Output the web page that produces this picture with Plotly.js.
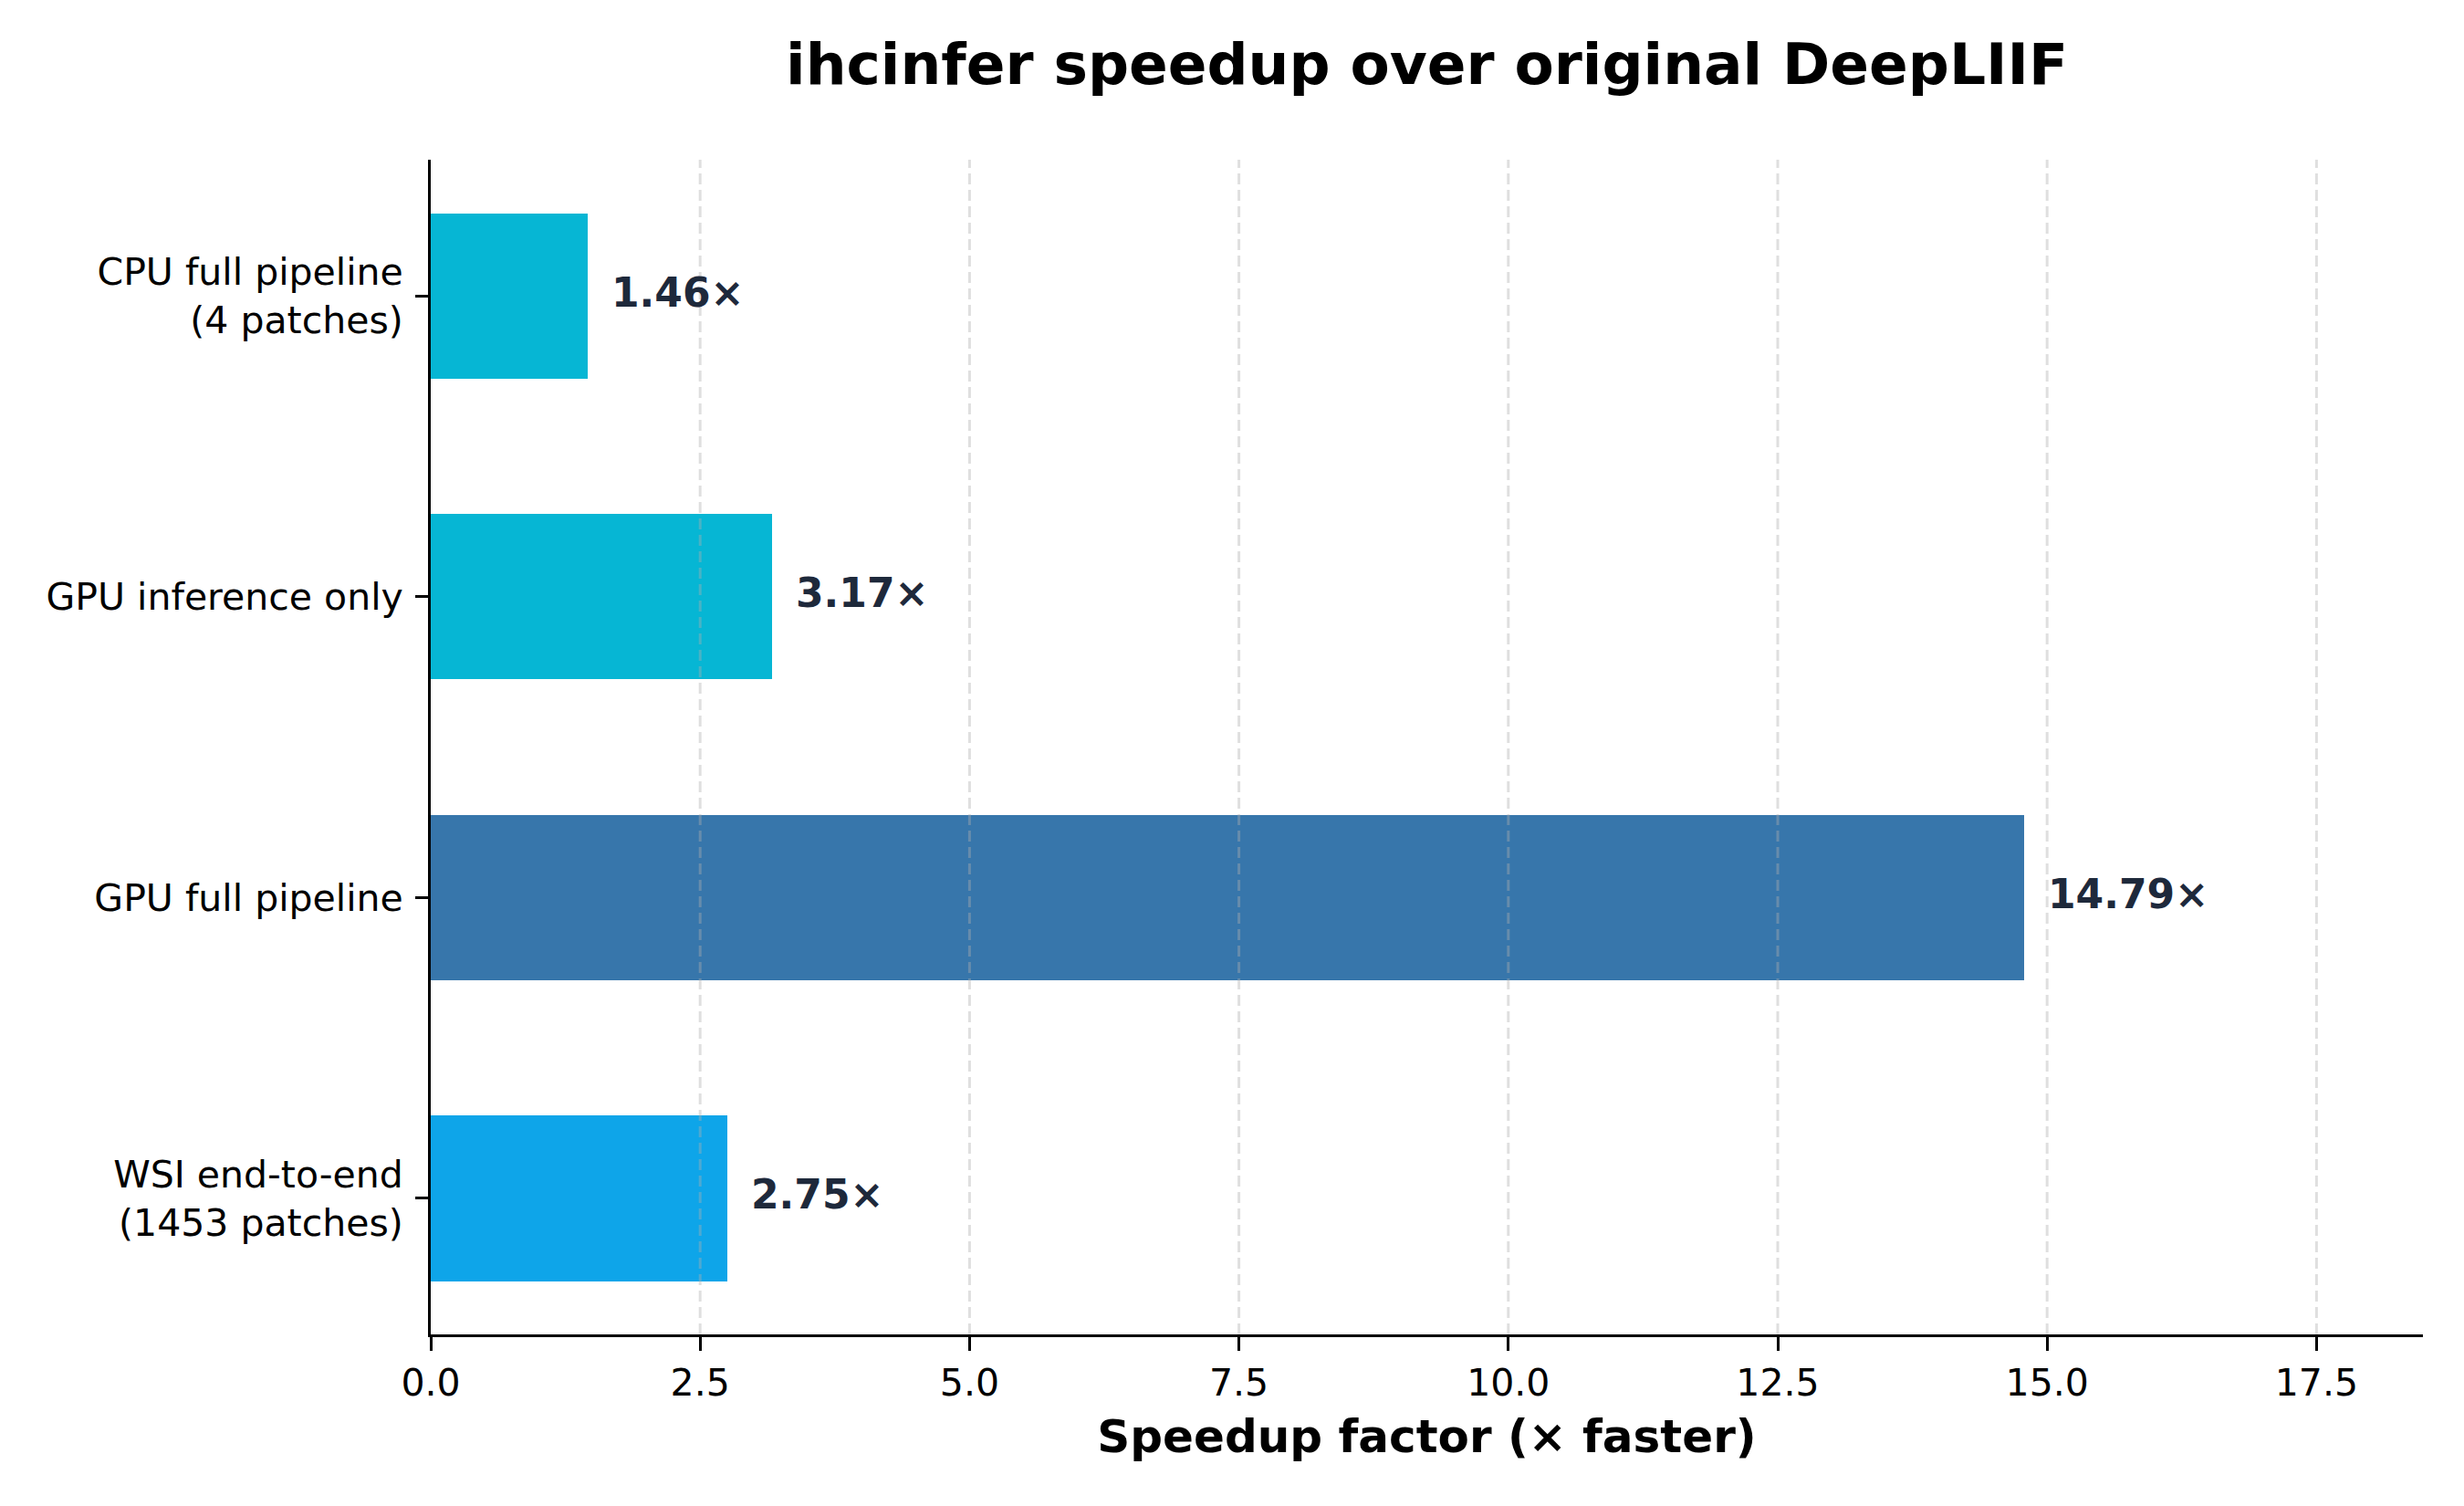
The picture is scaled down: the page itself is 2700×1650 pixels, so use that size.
<!DOCTYPE html>
<html>
<head>
<meta charset="utf-8">
<script src="https://cdn.plot.ly/plotly-3.0.1.min.js"></script>
<style>
  html, body { margin: 0; padding: 0; background: #ffffff; }
  #chart { width: 2700px; height: 1650px; }
</style>
</head>
<body>
<div id="chart"></div>
<script>
// benchmark results, top to bottom as drawn
const categories = [
    'CPU full pipeline<br>(4 patches)',
    'GPU inference only',
    'GPU full pipeline',
    'WSI end-to-end<br>(1453 patches)',
];
const speedups = [1.46, 3.17, 14.79, 2.75];
const xTicks = [0, 2.5, 5, 7.5, 10, 12.5, 15, 17.5];
const barColors = ['#06b6d4', '#06b6d4', '#3776ab', '#0ea5e9'];

const FONT = 'DejaVu Sans, Liberation Sans, sans-serif';

const speedupBars = {
    type: 'bar',
    orientation: 'h',
    y: categories,
    x: speedups,
    width: 0.55,
    marker: {
        color: barColors,
        line: {width: 0},
    },
    hoverinfo: 'skip',
};

// value labels next to each bar end
const valueLabels = speedups.map((v, i) => ({
    x: v,
    y: categories[i],
    xref: 'x',
    yref: 'y',
    text: '<b>' + v.toFixed(2) + '×</b>',
    showarrow: false,
    xanchor: 'left',
    yanchor: 'middle',
    xshift: 24,
    yshift: 4,
    font: {family: FONT, size: 44, color: '#1e293b'},
}));

// dashed vertical grid drawn on top of the bars, like the original
const gridShapes = xTicks.filter(t => t > 0).map(t => ({
    type: 'line',
    layer: 'above',
    xref: 'x',
    yref: 'paper',
    x0: t,
    x1: t,
    y0: 0,
    y1: 1,
    line: {color: 'rgba(176,176,176,0.4)', width: 3, dash: '12px,6px'},
}));

const layout = {
    width: 2700,
    height: 1650,
    paper_bgcolor: '#ffffff',
    plot_bgcolor: '#ffffff',
    showlegend: false,
    font: {family: FONT, color: '#000000'},
    title: {
        text: '<b>ihcinfer speedup over original DeepLIIF</b>',
        font: {family: FONT, size: 63, color: '#000000'},
        xref: 'paper',
        x: 0.5,
        xanchor: 'center',
        yref: 'container',
        y: 1 - 70 / 1650,
        yanchor: 'middle',
    },
    margin: {l: 472, r: 45, t: 175, b: 188, pad: 0},
    xaxis: {
        range: [0, Math.max(...speedups) * 1.25],
        tickvals: xTicks,
        ticktext: xTicks.map(t => t.toFixed(1)),
        showgrid: false,
        zeroline: false,
        showline: true,
        linecolor: '#000000',
        linewidth: 3,
        ticks: 'outside',
        ticklen: 15,
        tickwidth: 3,
        tickcolor: '#000000',
        tickfont: {family: FONT, size: 41, color: '#000000'},
        title: {
            text: '<b>Speedup factor (× faster)</b>',
            font: {family: FONT, size: 50, color: '#000000'},
            standoff: 18,
        },
        automargin: false,
        fixedrange: true,
    },
    yaxis: {
        type: 'category',
        categoryorder: 'array',
        categoryarray: categories,
        range: [3.4525, -0.4525],
        showgrid: false,
        zeroline: false,
        showline: true,
        linecolor: '#000000',
        linewidth: 3,
        ticks: 'outside',
        ticklen: 14,
        tickwidth: 3,
        tickcolor: '#000000',
        ticklabelstandoff: 5,
        tickfont: {family: FONT, size: 41, color: '#000000'},
        automargin: false,
        fixedrange: true,
    },
    annotations: valueLabels,
    shapes: gridShapes,
    bargap: 0,
};

Plotly.newPlot('chart', [speedupBars], layout, {
    displayModeBar: false,
    staticPlot: true,
});
</script>
</body>
</html>
